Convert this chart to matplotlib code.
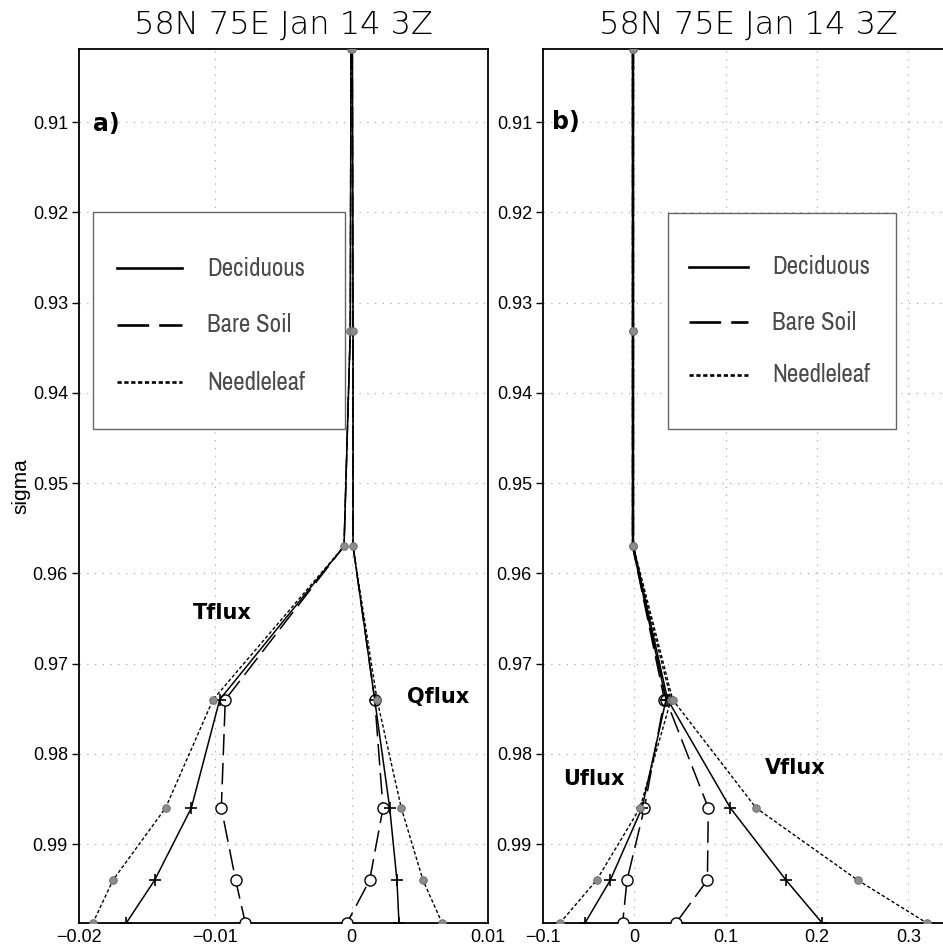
import matplotlib
matplotlib.use("Agg")
import matplotlib.pyplot as plt
from matplotlib import font_manager
from matplotlib.lines import Line2D
from matplotlib.patches import Rectangle

# ---------------- data ----------------
sigma = [0.9019, 0.9331, 0.957, 0.974, 0.986, 0.994, 0.99875]

t_decid = [-0.00005, -0.0001, -0.00056, -0.00968, -0.01176, -0.01445, -0.01653]
t_bare = [-0.00005, -0.0001, -0.00056, -0.00927, -0.00956, -0.00851, -0.0078]
t_needle = [-0.00005, -0.0001, -0.00056, -0.01017, -0.01365, -0.01751, -0.01898]

q_decid = [0.00005, 0.0001, 0.0001, 0.00169, 0.00279, 0.00332, 0.00347]
q_bare = [0.00005, 0.0001, 0.0001, 0.00169, 0.0023, 0.00132, -0.00034]
q_needle = [0.00005, 0.0001, 0.0001, 0.00186, 0.00364, 0.00523, 0.00663]

u_decid = [-0.002, -0.002, -0.002, 0.0347, 0.0084, -0.0263, -0.054]
u_bare = [-0.002, -0.002, -0.002, 0.0329, 0.011, -0.008, -0.0128]
u_needle = [-0.002, -0.002, -0.002, 0.0402, 0.0062, -0.0413, -0.0814]

v_decid = [-0.001, -0.001, -0.001, 0.0365, 0.1051, 0.1661, 0.2056]
v_bare = [-0.001, -0.001, -0.001, 0.0347, 0.081, 0.080, 0.0456]
v_needle = [-0.001, -0.001, -0.001, 0.042, 0.1333, 0.2446, 0.3202]

series_names = ["Deciduous", "Bare Soil", "Needleleaf"]
title_text = "58N 75E Jan 14 3Z"
yticks = [0.91, 0.92, 0.93, 0.94, 0.95, 0.96, 0.97, 0.98, 0.99]
xticks_a = [-0.02, -0.01, 0, 0.01]
xticks_b = [-0.1, 0, 0.1, 0.2, 0.3]

# ---------------- fonts ----------------
ttf = font_manager.fontManager.ttflist
names = {f.name for f in ttf}
tickfont = "Liberation Sans" if "Liberation Sans" in names else "DejaVu Sans"
leg_family, leg_stretch, leg_weight, leg_size = "DejaVu Sans", "normal", "light", 14
cands = [f for f in ttf if ("Narrow" in f.name or "Condensed" in f.name
                            or str(f.stretch) in ("condensed", "semi-condensed",
                                                  "extra-condensed", "ultra-condensed"))]
if cands:
    c = sorted(cands, key=lambda f: (str(f.weight) not in ("300", "light", "200", "normal", "400"),
                                     f.name))[0]
    leg_family, leg_stretch, leg_weight, leg_size = c.name, c.stretch, c.weight, 18

W, H = 943, 947
fig = plt.figure(figsize=(W / 100, H / 100), dpi=100)


def fx(px):
    return px / W


def fy(py):
    return 1 - py / H


styles = {
    "Deciduous": dict(color="black", lw=1.1, ls="-", marker="+", ms=8, mew=1.2,
                      mfc="black", mec="black", markevery=[3, 4, 5, 6], zorder=4),
    "Bare Soil": dict(color="black", lw=1.1, ls=(0, (14, 5)), marker="o", ms=8, mew=1.0,
                      mfc="white", mec="black", markevery=[3, 4, 5, 6], zorder=3),
    "Needleleaf": dict(color="black", lw=1.0, ls=(0, (2.5, 1.6)), marker="o", ms=5.5, mew=0.6,
                       mfc="#8c8c8c", mec="#666666", zorder=5),
}
legend_ls = {"Deciduous": "-", "Bare Soil": (0, (12, 3.8)), "Needleleaf": (0, (1.6, 1.0))}


def setup_axes(ax, xlim, xticks):
    ax.set_xlim(*xlim)
    ax.set_ylim(0.99875, 0.9019)
    ax.set_yticks(yticks)
    ax.set_yticklabels([f"{v:.2f}" for v in yticks])
    ax.set_xticks(xticks)
    ax.set_xticklabels([("0" if v == 0 else f"{v:g}".replace("-", "\u2212")) for v in xticks])
    ax.grid(True, color="#a0a0a0", lw=0.8, ls=(0, (1, 6)))
    ax.tick_params(axis="y", direction="out", length=5, width=1, labelsize=13, pad=3)
    ax.tick_params(axis="x", direction="out", length=0, labelsize=13, pad=4)
    for lab in ax.get_xticklabels() + ax.get_yticklabels():
        lab.set_fontfamily(tickfont)
    for s in ax.spines.values():
        s.set_linewidth(1.3)
    ax.set_axisbelow(True)


def draw_legend(box, line_x, line_ys, text_x):
    x0, y0, x1, y1 = box
    fig.patches.append(Rectangle((fx(x0), fy(y1)), fx(x1) - fx(x0), fy(y0) - fy(y1),
                                 transform=fig.transFigure, fill=True, facecolor="white",
                                 edgecolor="#666666", lw=1.0, zorder=6))
    for name, ly in zip(series_names, line_ys):
        fig.lines.append(Line2D([fx(line_x[0]), fx(line_x[1])], [fy(ly), fy(ly)],
                                transform=fig.transFigure, color="black", lw=1.9,
                                ls=legend_ls[name], zorder=7))
        fig.text(fx(text_x), fy(ly), name, family=leg_family, fontstretch=leg_stretch,
                 fontweight=leg_weight, fontsize=leg_size, color="#4a4a4a",
                 ha="left", va="center", zorder=7)


# ---------------- panel a ----------------
axa = fig.add_axes([fx(79), fy(923), fx(488) - fx(79), fy(49) - fy(923)])
setup_axes(axa, (-0.02, 0.01), xticks_a)
for name, tvals, qvals in zip(series_names, [t_decid, t_bare, t_needle],
                              [q_decid, q_bare, q_needle]):
    axa.plot(tvals, sigma, **styles[name])
    axa.plot(qvals, sigma, **styles[name])
fig.text(fx(106), fy(124), "a)", fontsize=17, fontweight="bold", ha="center", va="center")
fig.text(fx(222), fy(613), "Tflux", fontsize=15, fontweight="bold", ha="center", va="center")
fig.text(fx(438), fy(697), "Qflux", fontsize=15, fontweight="bold", ha="center", va="center")

# ---------------- panel b ----------------
axb = fig.add_axes([fx(543), fy(923), fx(411), fy(49) - fy(923)])
setup_axes(axb, (-0.1, 0.35), xticks_b)
for name, uvals, vvals in zip(series_names, [u_decid, u_bare, u_needle],
                              [v_decid, v_bare, v_needle]):
    axb.plot(uvals, sigma, **styles[name])
    axb.plot(vvals, sigma, **styles[name])
fig.text(fx(566), fy(122), "b)", fontsize=17, fontweight="bold", ha="center", va="center")
fig.text(fx(594), fy(779), "Uflux", fontsize=15, fontweight="bold", ha="center", va="center")
fig.text(fx(795), fy(768), "Vflux", fontsize=15, fontweight="bold", ha="center", va="center")

# ---------------- titles, labels ----------------
fig.text(fx(283), fy(25), title_text, fontsize=23, fontweight="light", ha="center", va="center")
fig.text(fx(748), fy(25), title_text, fontsize=23, fontweight="light", ha="center", va="center")
fig.text(fx(21), fy(486), "sigma", fontsize=15, family=tickfont, rotation=90,
         ha="center", va="center")

# ---------------- legends ----------------
draw_legend((93, 212, 345, 429), (117, 182), (268, 325, 382), 207)
draw_legend((668, 213, 896, 429), (689, 748), (267, 322, 375), 772)

fig.savefig("out.png", dpi=100)
